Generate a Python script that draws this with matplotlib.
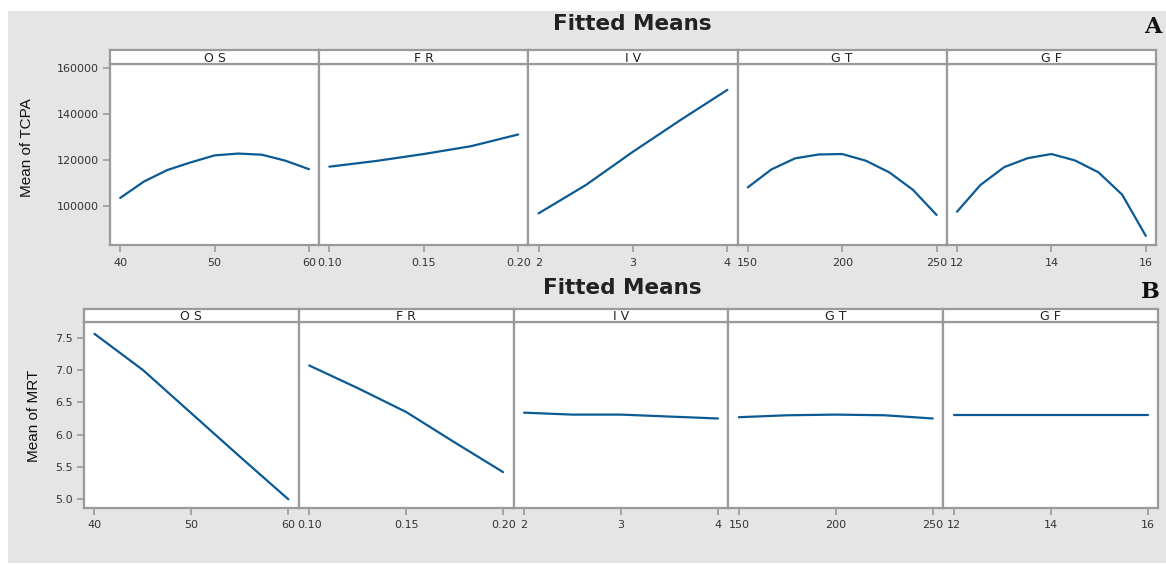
import numpy as np
import matplotlib.pyplot as plt
from matplotlib.patches import Rectangle

# ---- data ----
factors = ['O S', 'F R', 'I V', 'G T', 'G F']

os_x = [40, 42.5, 45, 47.5, 50, 52.5, 55, 57.5, 60]
fr_x = [0.10, 0.125, 0.15, 0.175, 0.20]
iv_x = [2, 2.5, 3, 3.5, 4]
gt_x = [150, 162.5, 175, 187.5, 200, 212.5, 225, 237.5, 250]
gf_x = [12, 12.5, 13, 13.5, 14, 14.5, 15, 15.5, 16]

tcpa_os = [103500, 110600, 115650, 119000, 122000, 122800, 122300, 119700, 116000]
tcpa_fr = [117100, 119600, 122600, 126000, 131100]
tcpa_iv = [96800, 109100, 123600, 137300, 150500]
tcpa_gt = [108100, 115900, 120700, 122400, 122600, 119700, 114600, 107000, 96100]
tcpa_gf = [97500, 109200, 116900, 120800, 122600, 119800, 114600, 104900, 87000]

os_x2 = [40, 45, 50, 55, 60]
fr_x2 = [0.10, 0.125, 0.15, 0.175, 0.20]
iv_x2 = [2, 2.5, 3, 3.5, 4]
gt_x2 = [150, 175, 200, 225, 250]
gf_x2 = [12, 13, 14, 15, 16]

mrt_os = [7.56, 7.0, 6.33, 5.66, 5.0]
mrt_fr = [7.07, 6.72, 6.35, 5.88, 5.42]
mrt_iv = [6.34, 6.31, 6.31, 6.28, 6.25]
mrt_gt = [6.27, 6.30, 6.31, 6.30, 6.25]
mrt_gf = [6.31, 6.31, 6.31, 6.31, 6.31]

xticks = [[40, 50, 60], [0.10, 0.15, 0.20], [2, 3, 4], [150, 200, 250], [12, 14, 16]]
xticklabels = [['40', '50', '60'], ['0.10', '0.15', '0.20'], ['2', '3', '4'],
               ['150', '200', '250'], ['12', '14', '16']]

tcpa_ticks = [100000, 120000, 140000, 160000]
mrt_ticks = [5.0, 5.5, 6.0, 6.5, 7.0, 7.5]

W, H = 1166, 565
fig = plt.figure(figsize=(W / 100, H / 100), dpi=100)
fig.patch.set_facecolor('white')
fig.patches.append(Rectangle((8 / W, 2 / H), 1 - 8 / W, 552 / H, transform=fig.transFigure,
                             facecolor='#e5e5e5', edgecolor='none', zorder=-10))

line_col = '#0b5a94'
frame_col = '#9a9a9a'
txt_col = '#333333'


def px_axes(x0, x1, y0, y1):
    # pixel box (top-left origin) -> figure axes
    return fig.add_axes([x0 / W, 1 - y1 / H, (x1 - x0) / W, (y1 - y0) / H])


def draw_row(left, right, strip_top, plot_top, plot_bottom, xs, ys, ylim, yticks, ylabels):
    n = len(xs)
    step = (right - left) / n
    for i in range(n):
        x0 = left + i * step
        x1 = x0 + step
        ax = px_axes(x0, x1, plot_top, plot_bottom)
        ax.plot(xs[i], ys[i], color=line_col, lw=1.6, solid_capstyle='round')
        lo, hi = xticks[i][0], xticks[i][-1]
        pad = (hi - lo) * 0.054
        ax.set_xlim(lo - pad, hi + pad)
        ax.set_ylim(*ylim)
        ax.set_xticks(xticks[i])
        ax.set_xticklabels(xticklabels[i], fontsize=8, color=txt_col)
        ax.tick_params(axis='x', length=5, width=1.2, color=frame_col, pad=4)
        if i == 0:
            ax.set_yticks(yticks)
            ax.set_yticklabels(ylabels, fontsize=8, color=txt_col)
            ax.tick_params(axis='y', length=5, width=1.2, color=frame_col, pad=3)
        else:
            ax.set_yticks([])
        for s in ax.spines.values():
            s.set_color(frame_col)
            s.set_linewidth(1.6)
        # strip on top
        st = px_axes(x0, x1, strip_top, plot_top)
        st.set_xticks([])
        st.set_yticks([])
        for s in st.spines.values():
            s.set_color(frame_col)
            s.set_linewidth(1.6)
        st.text(0.5, 0.4, factors[i], ha='center', va='center', fontsize=9,
                color='#222222', transform=st.transAxes)


draw_row(110, 1156, 50, 64, 245,
         [os_x, fr_x, iv_x, gt_x, gf_x],
         [tcpa_os, tcpa_fr, tcpa_iv, tcpa_gt, tcpa_gf],
         (83040, 161740), tcpa_ticks, [str(t) for t in tcpa_ticks])

draw_row(84, 1158, 309, 322, 508,
         [os_x2, fr_x2, iv_x2, gt_x2, gf_x2],
         [mrt_os, mrt_fr, mrt_iv, mrt_gt, mrt_gf],
         (4.865, 7.743), mrt_ticks, ['%.1f' % t for t in mrt_ticks])

# titles and labels
fig.text(632 / W, 1 - 24 / H, 'Fitted Means', ha='center', va='center',
         fontsize=15.5, fontweight='bold', color='#222222')
fig.text(622 / W, 1 - 288 / H, 'Fitted Means', ha='center', va='center',
         fontsize=15.5, fontweight='bold', color='#222222')
fig.text(1153 / W, 1 - 27 / H, 'A', ha='center', va='center', fontsize=16,
         fontweight='bold', family='DejaVu Serif', color='#111111')
fig.text(1150 / W, 1 - 292 / H, 'B', ha='center', va='center', fontsize=16,
         fontweight='bold', family='DejaVu Serif', color='#111111')
fig.text(27 / W, 1 - 148 / H, 'Mean of TCPA', rotation=90, ha='center', va='center',
         fontsize=11, family='Liberation Sans', color='#111111')
fig.text(34 / W, 1 - 416 / H, 'Mean of MRT', rotation=90, ha='center', va='center',
         fontsize=11, family='Liberation Sans', color='#111111')

fig.savefig('out.png', dpi=100)
